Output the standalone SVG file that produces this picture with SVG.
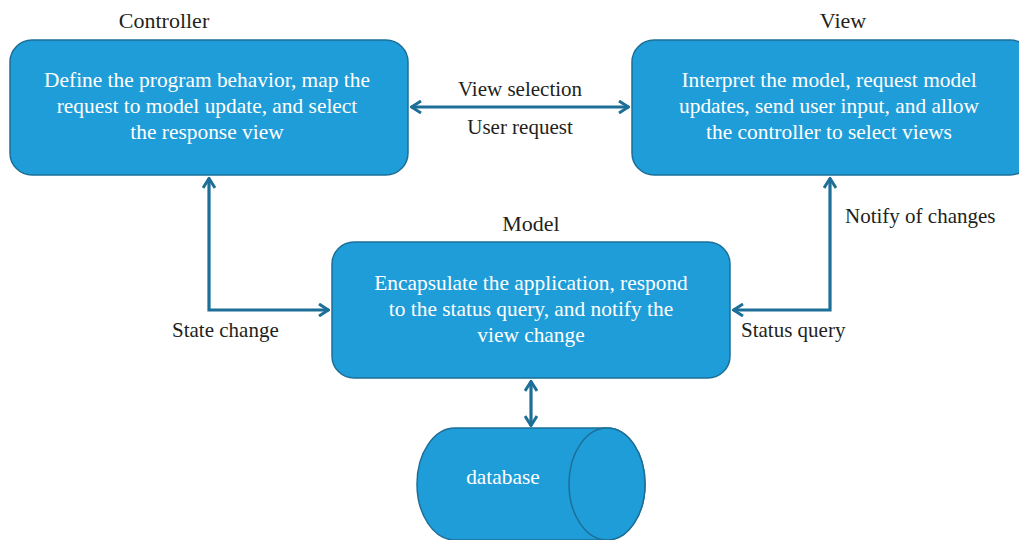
<svg xmlns="http://www.w3.org/2000/svg" width="1019" height="540" viewBox="0 0 1019 540">
<style>
.box{fill:#1f9dd8;stroke:#1d6f98;stroke-width:1.5}
.in{font-family:"Liberation Serif",serif;font-size:21.4px;fill:#ffffff;text-anchor:middle}
.lbl{font-family:"Liberation Serif",serif;font-size:21px;fill:#231f20}
.ttl{font-family:"Liberation Serif",serif;font-size:22px;fill:#231f20;text-anchor:middle}
.c{text-anchor:middle}
.con{fill:none;stroke:#1d6f98;stroke-width:3.2}
</style>
<defs>
<marker id="ah" viewBox="0 0 12 14" refX="11" refY="7" markerWidth="12" markerHeight="14" markerUnits="userSpaceOnUse" orient="auto-start-reverse">
<path d="M1,1 L10.5,7 L1,13" fill="none" stroke="#1d6f98" stroke-width="3"/>
</marker>
</defs>
<rect width="1019" height="540" fill="#ffffff"/>
<g id="connectors">
<line class="con" x1="411" y1="107" x2="629" y2="107" marker-start="url(#ah)" marker-end="url(#ah)"/>
<polyline class="con" points="209,178 209,310 329,310" marker-start="url(#ah)" marker-end="url(#ah)"/>
<polyline class="con" points="830,178 830,310 733,310" marker-start="url(#ah)" marker-end="url(#ah)"/>
<line class="con" x1="531" y1="381" x2="531" y2="426" marker-start="url(#ah)" marker-end="url(#ah)"/>
<text class="lbl c" x="520" y="96">View selection</text>
<text class="lbl c" x="520" y="134">User request</text>
<text class="lbl" x="845" y="223">Notify of changes</text>
<text class="lbl" x="172" y="337">State change</text>
<text class="lbl" x="741" y="337">Status query</text>
</g>
<g id="controller">
<text class="ttl" x="164" y="28">Controller</text>
<rect class="box" x="10" y="40" width="398" height="135" rx="22"/>
<text class="in" x="207" y="87">Define the program behavior, map the</text>
<text class="in" x="207" y="113">request to model update, and select</text>
<text class="in" x="207" y="139">the response view</text>
</g>
<g id="view">
<text class="ttl" x="843" y="28">View</text>
<rect class="box" x="632" y="40" width="400" height="135" rx="22"/>
<text class="in" x="829" y="87">Interpret the model, request model</text>
<text class="in" x="829" y="113">updates, send user input, and allow</text>
<text class="in" x="829" y="139">the controller to select views</text>
</g>
<g id="model">
<text class="ttl" x="531" y="231">Model</text>
<rect class="box" x="332" y="242" width="398" height="136" rx="22"/>
<text class="in" x="531" y="290">Encapsulate the application, respond</text>
<text class="in" x="531" y="316">to the status query, and notify the</text>
<text class="in" x="531" y="342">view change</text>
</g>
<g id="database">
<path class="box" d="M455,428 L607,428 A38,56 0 0 1 607,540 L455,540 A38,56 0 0 1 455,428 Z"/>
<ellipse class="box" cx="607" cy="484" rx="38" ry="56"/>
<text class="in" x="503" y="484">database</text>
</g>
</svg>
